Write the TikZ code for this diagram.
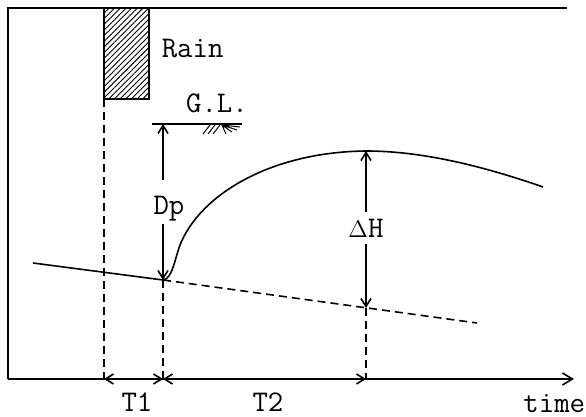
\documentclass[tikz,border=0pt]{standalone}
\usetikzlibrary{arrows.meta,patterns.meta}
\begin{document}
\begin{tikzpicture}[x=0.5pt,y=-0.5pt,line width=0.8pt,
  lbl/.style={font=\ttfamily\fontsize{15}{17}\selectfont,inner sep=0pt},
  dashline/.style={dash pattern=on 4pt off 2.5pt},
  barb/.style={-{Straight Barb[length=4pt,width=5pt]}},
  dimarrow/.style={{Straight Barb[length=4pt,width=5pt]}-{Straight Barb[length=4pt,width=5pt]}}]
\useasboundingbox (0,0) rectangle (586,417);
\coordinate (topleft) at (8,8);
\coordinate (topright) at (567,8);
\coordinate (origin) at (8,379);
\coordinate (axisend) at (574,379);
\draw (topright) -- (topleft) -- (origin);
\draw[-{Straight Barb[length=5pt,width=6pt]}] (origin) -- (axisend);
\coordinate (raintop) at (104,8);
\coordinate (rainbot) at (104,99);
\draw[pattern={Lines[angle=45,distance=2pt,line width=0.45pt]}] (raintop) rectangle (149,99);
\node[lbl,anchor=west] (rain) at (161,49) {Rain};
\node[lbl] (gl) at (217,103) {G.L.};
\coordinate (glleft) at (152,124);
\coordinate (glright) at (242,124);
\coordinate (gldp) at (163,124);
\draw (glleft) -- (glright);
\draw[line width=0.5pt] (203,134) -- (210,125) (208,134) -- (215,125) (213,134) -- (220,125)
  (222,125) -- (226,134) (222,125) -- (232,132) (222,125) -- (237,130) (222,125) -- (240,127);
\coordinate (t0) at (104,379);
\coordinate (t1) at (163,379);
\coordinate (t2) at (366,379);
\coordinate (base0) at (33,263);
\coordinate (lowpt) at (163,280);
\coordinate (dashend) at (477,323);
\coordinate (dhbot) at (366,308);
\coordinate (peak) at (366,151);
\coordinate (tailend) at (543,187);
\draw (base0) -- (lowpt);
\draw[dashline] (lowpt) -- (dashend);
\draw[dashline] (rainbot) -- (t0);
\draw[dashline] (lowpt) -- (t1);
\draw[dashline] (dhbot) -- (t2);
\draw (lowpt) .. controls (172,279) and (174,262) .. (180,245)
  .. controls (200,195) and (270,152) .. (peak)
  .. controls (420,151) and (480,165) .. (tailend);
\node[lbl] (dp) at (169,209) {Dp};
\coordinate (dpgap1) at (163,180);
\coordinate (dpgap2) at (163,224);
\draw[barb] (dpgap1) -- (gldp);
\draw[barb] (dpgap2) -- (lowpt);
\node[lbl] (dh) at (366,228) {{\fontsize{12}{14}\selectfont$\Delta$}H};
\coordinate (dhgap1) at (366,212);
\coordinate (dhgap2) at (366,244);
\draw[barb] (dhgap1) -- (peak);
\draw[barb] (dhgap2) -- (dhbot);
\draw[dimarrow] (t0) -- (t1);
\draw[dimarrow] (t1) -- (t2);
\node[lbl] (T1) at (137,402) {T1};
\node[lbl] (T2) at (268,402) {T2};
\node[lbl,anchor=east] (time) at (586,404) {time};
\end{tikzpicture}
\end{document}
